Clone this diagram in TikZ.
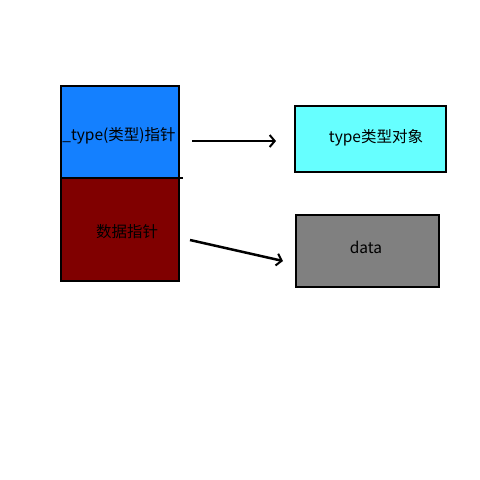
\documentclass[tikz,border=0pt]{standalone}
\usepackage{fontspec}
\setmainfont{Noto Sans CJK SC}
\usetikzlibrary{arrows.meta}
\definecolor{ptrblue}{RGB}{20,128,255}
\definecolor{ptrred}{RGB}{128,0,0}
\definecolor{objcyan}{RGB}{102,255,255}
\definecolor{objgray}{RGB}{128,128,128}

\begin{document}
\begin{tikzpicture}[x=1pt,y=-1pt,
    box/.style={draw=black,line width=2pt,inner sep=0pt,outer sep=0pt},
    txt/.style={font=\fontsize{15.5}{17}\selectfont,inner sep=0pt},
    ptr/.style={line width=2.5pt,-{Straight Barb[length=5pt,width=12pt,line width=2pt]}}]

  %%%% Canvas %%%%
  \useasboundingbox (0,0) rectangle (480,480);

  %% The object with its two pointers
  \node[box,fill=ptrblue,minimum width=118pt,minimum height=92pt] (typeptr) at (120,132) {};
  \node[box,fill=ptrred,minimum width=118pt,minimum height=103pt] (dataptr) at (120,229.5) {};
  \coordinate (divend) at (183,178);
  \draw[line width=2pt] (typeptr.south west) -- (divend);
  \node[txt] (typeptrtxt) at (119,136) {\_type(类型)指针};
  \node[txt] (dataptrtxt) at (127,232) {数据指针};

  %% What they point to
  \node[box,fill=objcyan,minimum width=151pt,minimum height=66pt] (typeobj) at (370.5,139) {};
  \node[box,fill=objgray,minimum width=143pt,minimum height=72pt] (dataobj) at (367.5,251) {};
  \node[txt] (typeobjtxt) at (376,138) {type类型对象};
  \node[txt] (dataobjtxt) at (366,247) {data};

  %% Arrows
  \coordinate (a1s) at (192,141);
  \coordinate (a1e) at (276,141);
  \coordinate (a2s) at (190,240);
  \coordinate (a2e) at (283,261);
  \draw[ptr] (a1s) -- (a1e);
  \draw[ptr] (a2s) -- (a2e);

\end{tikzpicture}
\end{document}
